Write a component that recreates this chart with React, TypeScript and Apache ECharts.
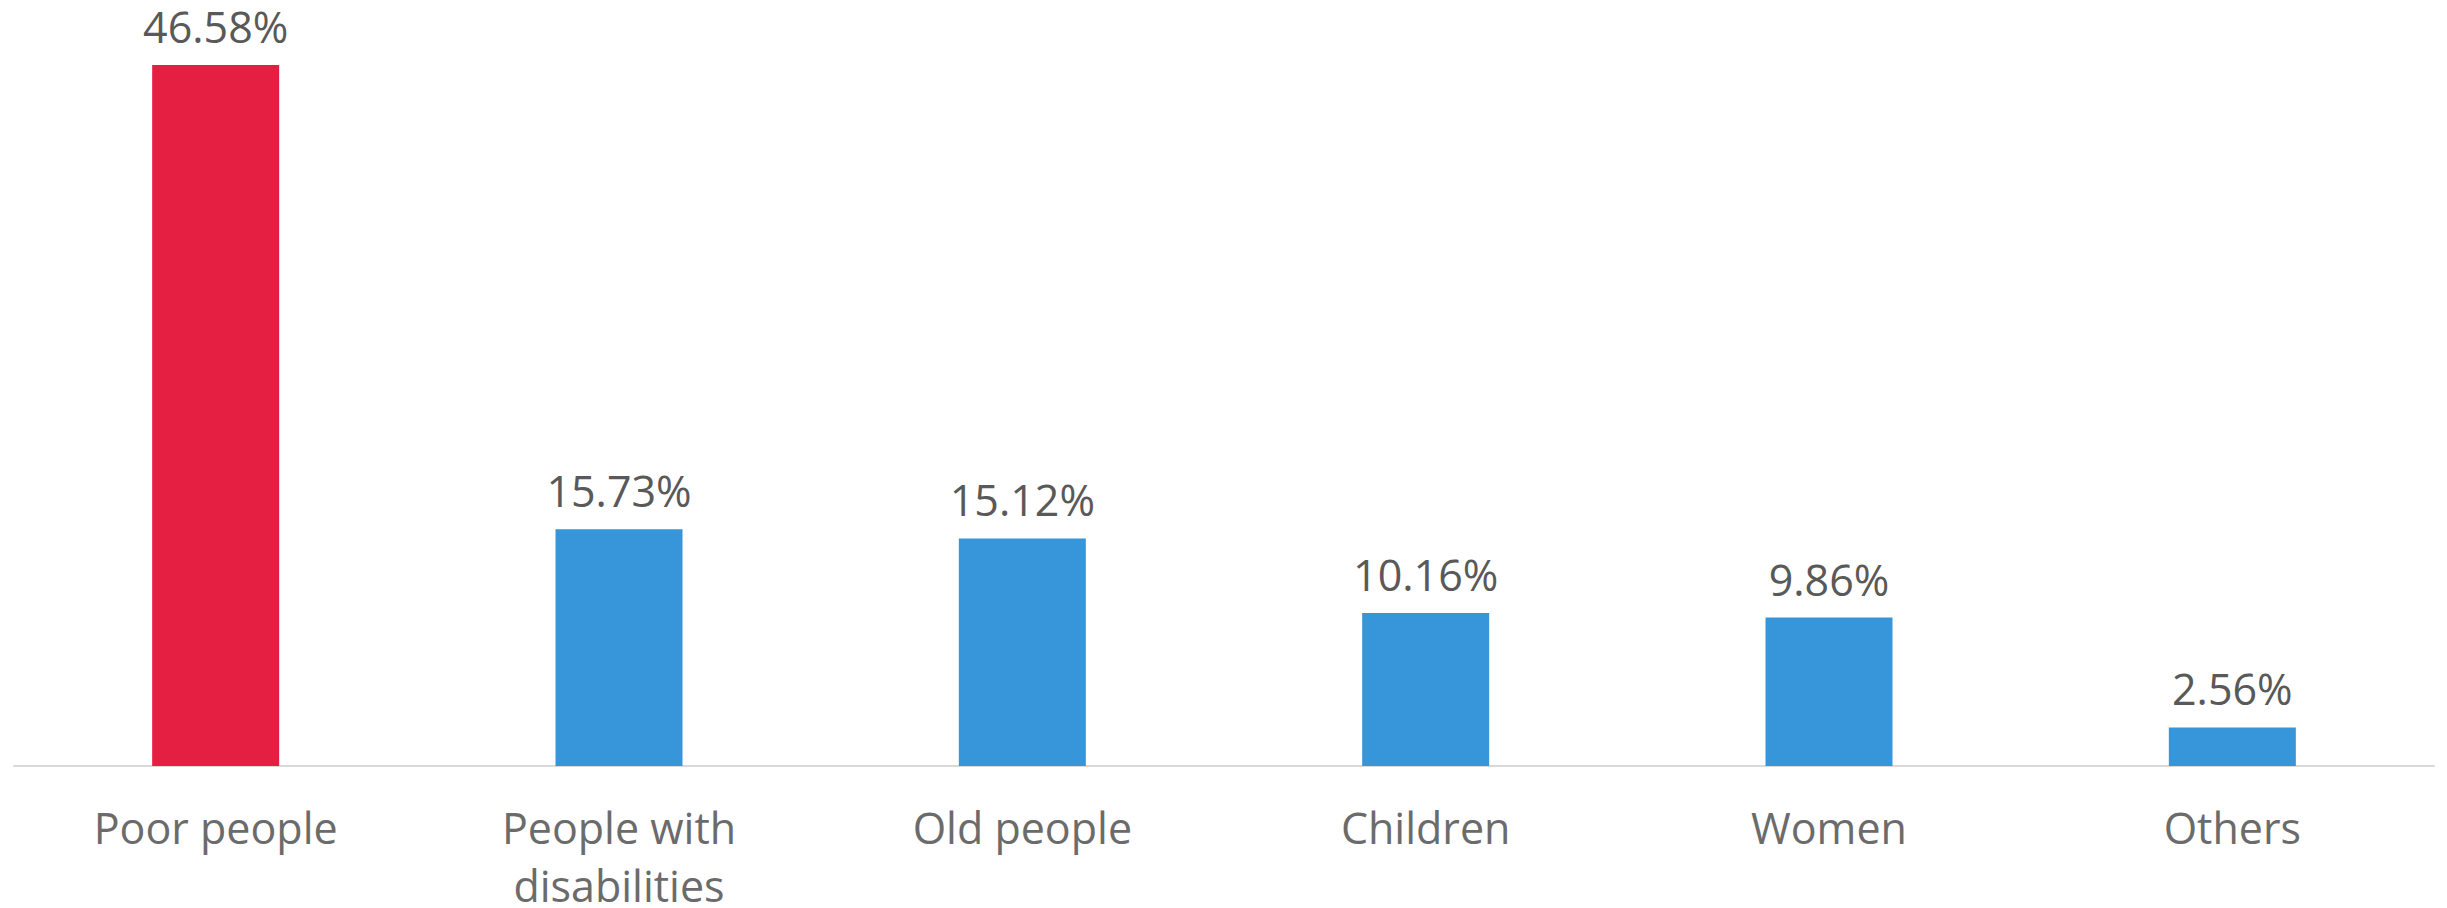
import React, { useEffect, useRef } from "react";
import * as echarts from "echarts";

const categories = ["Poor people", "People with\ndisabilities", "Old people", "Children", "Women", "Others"];
const values = [46.58, 15.73, 15.12, 10.16, 9.86, 2.56];
const barColors = ["#E41F41", "#3795D9", "#3795D9", "#3795D9", "#3795D9", "#3795D9"];

export default function App() {
  const ref = useRef<HTMLDivElement>(null);
  useEffect(() => {
    if (!ref.current) return;
    const chart = echarts.init(ref.current, null, { renderer: "svg" });
    chart.setOption({
      animation: false,
      backgroundColor: "#ffffff",
      grid: {
        left: 14,
        right: 13,
        top: 13.5,
        height: 752.5,
        containLabel: false,
        outerBoundsMode: "none",
      },
      xAxis: {
        type: "category",
        data: categories,
        axisLine: { show: true, lineStyle: { color: "#D9D9D9", width: 2 } },
        axisTick: { show: false },
        axisLabel: {
          color: "#6B6B6B",
          fontFamily: "Open Sans",
          fontSize: 43,
          lineHeight: 58,
          margin: 32,
          interval: 0,
        },
      },
      yAxis: {
        type: "value",
        min: 0,
        max: 50,
        show: false,
        splitLine: { show: false },
      },
      series: [
        {
          type: "bar",
          barWidth: 127,
          data: values.map((v, i) => ({ value: v, itemStyle: { color: barColors[i] } })),
          label: {
            show: true,
            position: "top",
            distance: 17,
            color: "#595959",
            fontFamily: "Open Sans",
            fontSize: 43,
            lineHeight: 43,
            formatter: (p: any) => p.value.toFixed(2) + "%",
          },
        },
      ],
    });
    return () => chart.dispose();
  }, []);
  return (
    <div
      ref={ref}
      style={{ position: "fixed", left: 0, top: 0, width: 2447, height: 908, background: "#fff" }}
    />
  );
}
